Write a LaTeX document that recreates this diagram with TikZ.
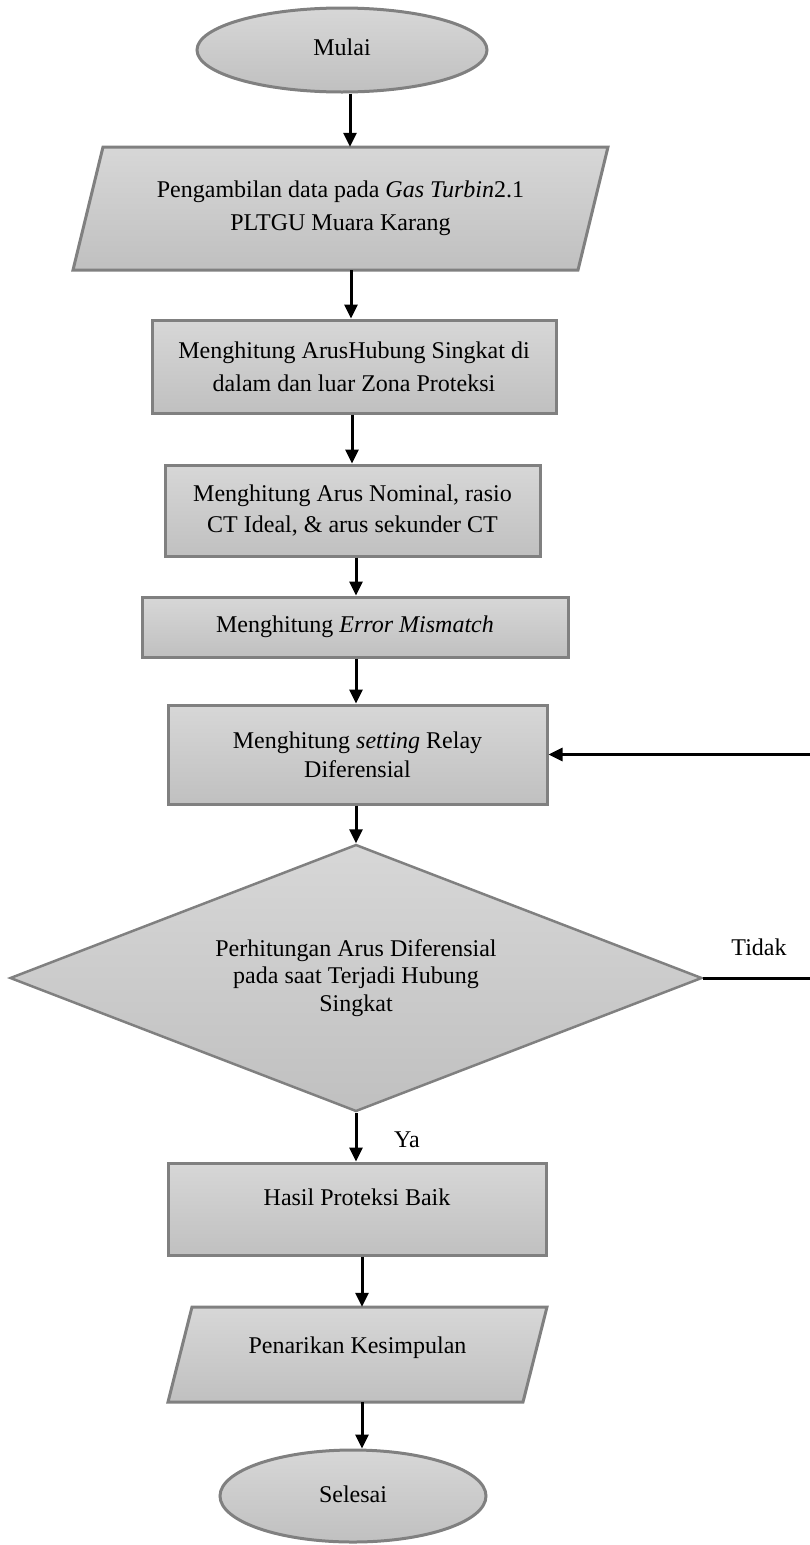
\documentclass[tikz,border=0pt]{standalone}
\usepackage{fontspec}
\setmainfont{Liberation Serif}
\usetikzlibrary{shapes.geometric,arrows.meta}
\definecolor{fillT}{RGB}{215,215,215}
\definecolor{fillB}{RGB}{192,192,192}
\definecolor{edgec}{RGB}{128,128,128}
\begin{document}
\begin{tikzpicture}[x=1pt,y=-1pt,
  shade/.style={draw=edgec, line width=3pt, top color=fillT, bottom color=fillB},
  box/.style={shade, align=center, inner sep=0pt, font=\fontsize{24}{33}\selectfont},
  rbox/.style={box, rectangle},
  oval/.style={box, ellipse},
  iotext/.style={rectangle, align=center, inner sep=0pt, font=\fontsize{24}{33}\selectfont},
  arr/.style={line width=3pt, -{Triangle[width=13pt,length=14pt]}},
  lbl/.style={font=\fontsize{24}{28}\selectfont, inner sep=0pt}
]
\useasboundingbox (0,0) rectangle (810,1545);

% start
\node[oval, minimum width=290pt, minimum height=84pt, text height=17pt, text depth=7pt] (mulai) at (342,50) {Mulai};

% input 1 (parallelogram)
\path[shade] (103,147) -- (608,147) -- (578,270) -- (73,270) -- cycle;
\node[iotext, minimum width=505pt, minimum height=123pt] (p1) at (340.5,208.5)
  {Pengambilan data pada \textit{Gas Turbin}2.1\\PLTGU Muara Karang};

\node[rbox, minimum width=404pt, minimum height=93pt] (r2) at (354,366.5)
  {Menghitung ArusHubung Singkat di\\dalam dan luar Zona Proteksi};

\node[rbox, minimum width=375pt, minimum height=91pt, font=\fontsize{24}{31.5}\selectfont] (r3) at (352.5,510.5)
  {Menghitung Arus Nominal, rasio\\CT Ideal, \& arus sekunder CT};

\node[rbox, minimum width=426pt, minimum height=60pt, text height=17pt, text depth=7pt] (r4) at (355,627)
  {Menghitung \textit{Error Mismatch}};

\node[rbox, minimum width=379pt, minimum height=99pt, font=\fontsize{24}{29}\selectfont] (r5) at (357.5,754.5)
  {Menghitung \textit{setting} Relay\\Diferensial};

\node[box, diamond, aspect=2.59, minimum width=692pt, minimum height=267pt, line width=2.5pt, font=\fontsize{24}{27.5}\selectfont] (dec) at (356,978)
  {Perhitungan Arus Diferensial\\pada saat Terjadi Hubung\\Singkat};

\node[rbox, minimum width=378pt, minimum height=92pt, text height=17pt, text depth=25pt] (r6) at (357,1209)
  {Hasil Proteksi Baik};

% input 2 (parallelogram)
\path[shade] (192,1307) -- (547,1307) -- (523,1402) -- (168,1402) -- cycle;
\node[iotext, minimum width=355pt, minimum height=95pt, text height=17pt, text depth=20pt] (p2) at (357.5,1354.5)
  {Penarikan Kesimpulan};

\node[oval, minimum width=266pt, minimum height=92pt, text height=17pt, text depth=5pt] (selesai) at (353,1496) {Selesai};

% labels
\node[lbl, anchor=base] (tidak) at (759,955) {Tidak};
\node[lbl, anchor=base] (ya) at (407,1147) {Ya};

% arrow columns
\coordinate (c1) at (350,0);
\coordinate (c2) at (351,0);
\coordinate (c3) at (352,0);
\coordinate (c4) at (356,0);
\coordinate (c6) at (362,0);
\coordinate (fbin) at (810,754.5);
\coordinate (fbout) at (810,978);

\draw[arr] (mulai.south -| c1) -- (p1.north -| c1);
\draw[arr] (p1.south -| c2) -- (r2.north -| c2);
\draw[arr] (r2.south -| c3) -- (r3.north -| c3);
\draw[arr] (r3.south -| c4) -- (r4.north -| c4);
\draw[arr] (r4.south -| c4) -- (r5.north -| c4);
\draw[arr] (r5.south -| dec.north) -- (dec.north);
\draw[arr] (dec.south) -- (r6.north -| dec.south);
\draw[arr] (r6.south -| c6) -- (p2.north -| c6);
\draw[arr] (p2.south -| c6) -- (selesai.north -| c6);
\draw[line width=3pt] (dec.east) -- (fbout);
\draw[arr] (fbin) -- (r5.east);
\end{tikzpicture}
\end{document}
